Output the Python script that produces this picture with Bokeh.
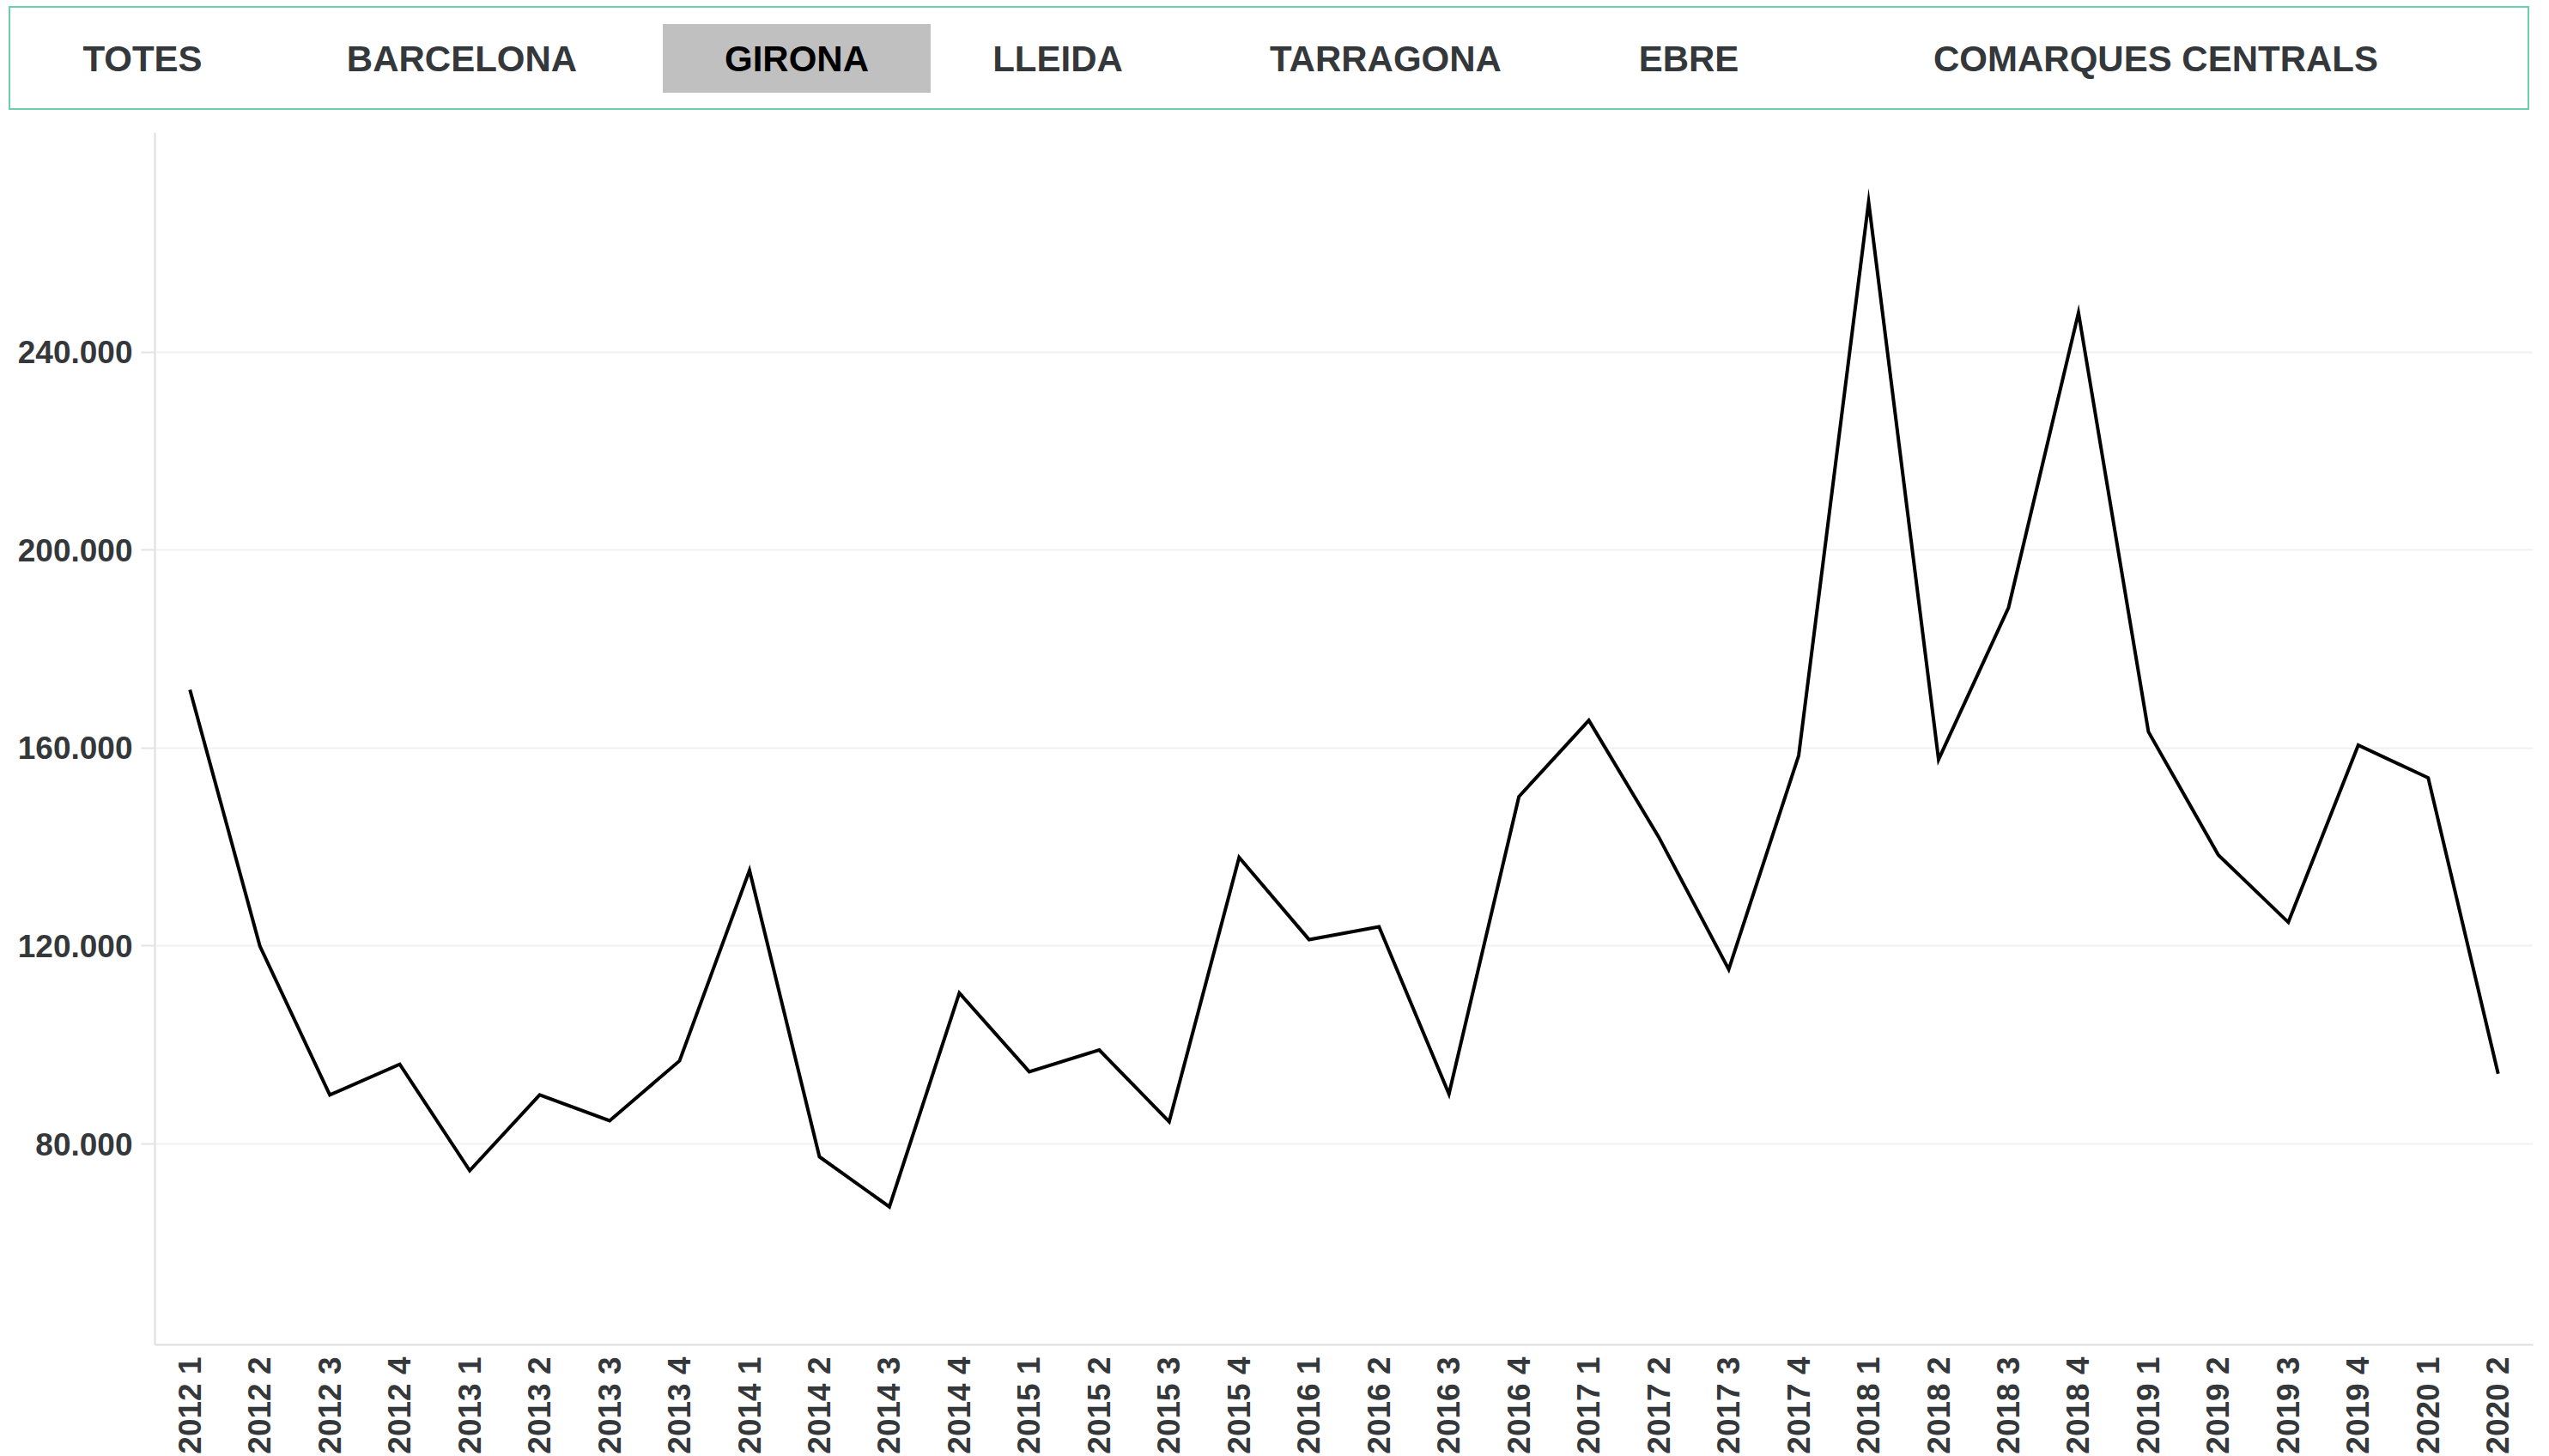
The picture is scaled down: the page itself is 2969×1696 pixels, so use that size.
import math
from bokeh.plotting import figure
from bokeh.layouts import column
from bokeh.models import FactorRange, Range1d, FixedTicker, CustomJSTickFormatter, Div
from bokeh.embed import file_html
from bokeh.resources import INLINE

# ---------------- data ----------------
regions = ["TOTES", "BARCELONA", "GIRONA", "LLEIDA", "TARRAGONA", "EBRE", "COMARQUES CENTRALS"]
selected_region = "GIRONA"

periods = [
    "2012 1", "2012 2", "2012 3", "2012 4",
    "2013 1", "2013 2", "2013 3", "2013 4",
    "2014 1", "2014 2", "2014 3", "2014 4",
    "2015 1", "2015 2", "2015 3", "2015 4",
    "2016 1", "2016 2", "2016 3", "2016 4",
    "2017 1", "2017 2", "2017 3", "2017 4",
    "2018 1", "2018 2", "2018 3", "2018 4",
    "2019 1", "2019 2", "2019 3", "2019 4",
    "2020 1", "2020 2",
]
values = [
    171800, 120000, 89900, 96100,
    74600, 89900, 84700, 96800,
    135300, 77400, 67300, 110500,
    94600, 99000, 84500, 137900,
    121300, 123900, 90100, 150200,
    165600, 142000, 115300, 158500,
    270400, 157700, 188400, 248000,
    163300, 138400, 124800, 160600,
    154000, 94200,
]
y_ticks = [80000, 120000, 160000, 200000, 240000]

# ---------------- layout constants ----------------
W = 2961
HEADER_H = 132
PLOT_H = 1564
button_x = [166, 538, 928, 1232, 1614, 1967, 2511]   # centres of the buttons (layout only)
TEXT_COLOR = "#35383b"
FONT = "Liberation Sans"

# ---------------- header (region buttons) as HTML ----------------
sel_i = regions.index(selected_region)
parts = [
    f'<div style="position:relative;width:{W}px;height:{HEADER_H}px;'
    f'font-family:\'{FONT}\',Arial,sans-serif;font-weight:bold;font-size:42px;">',
    '<div style="position:absolute;left:10px;top:7px;width:2936px;height:121px;'
    'box-sizing:border-box;border:2px solid #6dcdb1;"></div>',
    f'<div style="position:absolute;left:{button_x[sel_i] - 156}px;top:28px;width:312px;'
    'height:80px;background:#c0c0c0;"></div>',
]
for r, bx in zip(regions, button_x):
    col = "#000000" if r == selected_region else TEXT_COLOR
    parts.append(
        f'<span style="position:absolute;left:{bx}px;top:48px;line-height:42px;'
        f'transform:translateX(-50%);white-space:nowrap;color:{col};">{r}</span>')
parts.append('</div>')
hdr = Div(text="".join(parts), width=W, height=HEADER_H, margin=(0, 0, 0, 0))

# ---------------- main chart ----------------
p = figure(width=W, height=PLOT_H, x_range=FactorRange(*periods),
           y_range=Range1d(39400, 284400), toolbar_location=None,
           output_backend="svg", min_border_left=180, min_border_right=11,
           min_border_top=22, min_border_bottom=128, outline_line_color=None,
           margin=(0, 0, 0, 0))
p.background_fill_color = "white"
p.border_fill_color = "white"

p.line(x=periods, y=values, line_color="black", line_width=4, line_join="miter")

p.xgrid.visible = False
p.ygrid.grid_line_color = "#f1f1f1"
p.ygrid.grid_line_width = 2

p.yaxis.ticker = FixedTicker(ticks=y_ticks)
p.yaxis.formatter = CustomJSTickFormatter(
    code=r"return Math.round(tick).toString().replace(/\B(?=(\d{3})+(?!\d))/g, '.');")
p.yaxis.axis_line_color = "#dedede"
p.yaxis.axis_line_width = 2
p.yaxis.major_tick_line_color = "#e4e4e4"
p.yaxis.major_tick_line_width = 2
p.yaxis.major_tick_in = 0
p.yaxis.major_tick_out = 16
p.yaxis.minor_tick_line_color = None
p.yaxis.major_label_standoff = 10
p.yaxis.major_label_text_font = FONT
p.yaxis.major_label_text_font_style = "bold"
p.yaxis.major_label_text_font_size = "37px"
p.yaxis.major_label_text_color = TEXT_COLOR

p.xaxis.axis_line_color = "#dedede"
p.xaxis.axis_line_width = 2
p.xaxis.major_tick_line_color = None
p.xaxis.major_tick_in = 0
p.xaxis.major_tick_out = 0
p.xaxis.minor_tick_line_color = None
p.xaxis.major_label_orientation = math.pi / 2
p.xaxis.major_label_standoff = 14
p.xaxis.major_label_text_font = FONT
p.xaxis.major_label_text_font_style = "bold"
p.xaxis.major_label_text_font_size = "37px"
p.xaxis.major_label_text_color = TEXT_COLOR

layout = column(hdr, p, spacing=0)
open("out.html", "w").write(file_html(layout, INLINE))
